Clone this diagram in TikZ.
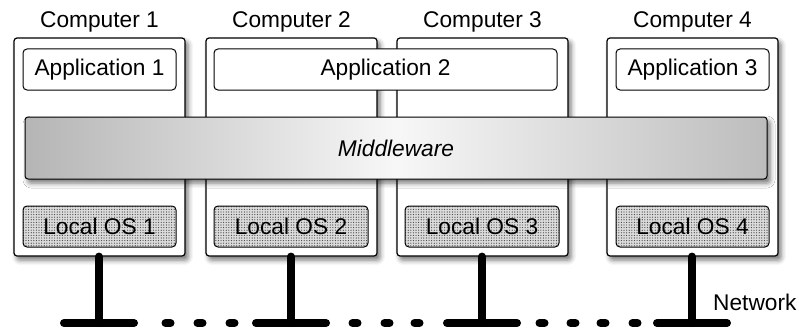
\documentclass[tikz,border=0pt]{standalone}
\usepackage{fontspec}
\setmainfont{Liberation Sans}
\usetikzlibrary{positioning,calc,shadows.blur,patterns.meta}

\tikzset{
  compbox/.style={draw, line width=1.2pt, rounded corners=3pt, fill=white, inner sep=0pt,
    minimum width=171pt, minimum height=218pt,
    blur shadow={shadow xshift=3pt, shadow yshift=-4pt, shadow blur radius=5pt, shadow opacity=55}},
  appbox/.style={draw, line width=1pt, rounded corners=4pt, fill=white, inner sep=0pt, minimum height=41pt},
  osbox/.style={draw, line width=1pt, rounded corners=4pt, inner sep=0pt, minimum height=41pt,
    preaction={fill=gray!28}, pattern={Dots[distance=2.6pt, radius=0.6pt]}, pattern color=black!75},
  lbl/.style={inner sep=0pt},
  netline/.style={line width=8pt, line cap=round}
}

\begin{document}
\begin{tikzpicture}[x=1pt, y=-1pt, font=\fontsize{22.7}{27}\selectfont]
  \useasboundingbox (0,0) rectangle (799,329);

  % computers
  \node[compbox] (comp1) at (99.5,147) {};
  \node[compbox] (comp2) at (291.5,147) {};
  \node[compbox] (comp3) at (482.5,147) {};
  \node[compbox] (comp4) at (692.5,147) {};
  \foreach \i in {1,...,4}
    \node[lbl, above=5pt of comp\i] (lbl\i) {Computer \i};

  % middleware
  \node[draw, line width=1pt, rounded corners=3pt, inner sep=0pt, minimum width=742pt, minimum height=62pt,
    left color=gray!58, right color=gray!52, middle color=gray!6,
    blur shadow={shadow xshift=3pt, shadow yshift=-4pt, shadow blur radius=5pt, shadow opacity=55}]
    (mw) at (396,148) {\itshape Middleware};

  % applications
  \node[appbox, minimum width=153pt] (app1) at (99.5,69.5) {Application 1};
  \node[appbox, minimum width=343pt] (app2) at (385.5,69.5) {Application 2};
  \node[appbox, minimum width=153pt] (app3) at (692.5,69.5) {Application 3};

  % local OS
  \node[osbox, minimum width=153pt] (os1) at (99.5,226.5) {Local OS 1};
  \node[osbox, minimum width=154pt] (os2) at (291,226.5) {Local OS 2};
  \node[osbox, minimum width=154pt] (os3) at (482,226.5) {Local OS 3};
  \node[osbox, minimum width=153pt] (os4) at (692.5,226.5) {Local OS 4};

  % network
  \coordinate (net1) at (99,323);
  \coordinate (net2) at (291,323);
  \coordinate (net3) at (482,323);
  \coordinate (net4) at (692,323);
  \foreach \i in {1,...,4} {
    \draw[netline] (comp\i.south -| net\i) -- (net\i);
    \draw[netline] ($(net\i)+(-35,0)$) -- ($(net\i)+(35,0)$);
  }
  \foreach \x in {168,200,232,355,387,417,542,573,603,635}
    \draw[netline] (\x-2.5,323) -- (\x+2.5,323);
  \node[lbl, anchor=base west] (net) at (713,310) {Network};
\end{tikzpicture}
\end{document}
